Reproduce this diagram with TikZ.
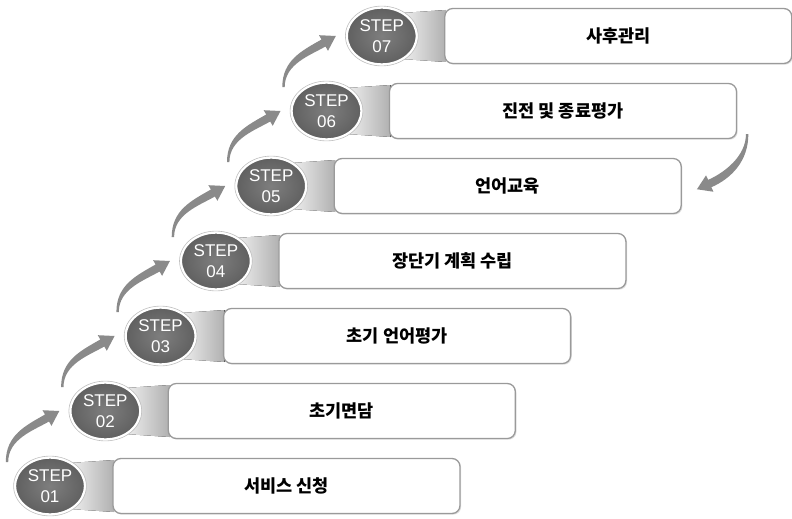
\documentclass[tikz,border=0pt]{standalone}
\usepackage{fontspec}
\setmainfont{Liberation Sans}
\newfontfamily\kr{Noto Sans CJK KR}
\usetikzlibrary{shapes.geometric,shadows,calc}
\definecolor{arrowgray}{HTML}{8A8A8A}
\definecolor{stepdark}{HTML}{606060}
\definecolor{steplight}{HTML}{7E7E7E}
\definecolor{boxline}{HTML}{9A9A9A}
\tikzset{
  stepcircle/.style={ellipse, minimum width=70pt, minimum height=57pt, inner sep=0pt,
    inner color=steplight, outer color=stepdark, draw=white, line width=2.4pt,
    text=white, align=center, font=\fontsize{17}{21}\selectfont},
  stepbox/.style={rectangle, rounded corners=8pt, minimum width=347pt, minimum height=55pt,
    draw=boxline, line width=1.3pt, fill=white,
    drop shadow={opacity=0.25, shadow xshift=1.2pt, shadow yshift=-1.2pt},
    font=\kr\bfseries\fontsize{17.5}{20}\selectfont},
  funnel/.style={left color=gray!12, right color=gray!62, draw=none},
  bentarrow/.style={fill=arrowgray, draw=none}
}
\begin{document}
\begin{tikzpicture}[x=1pt,y=-1pt]
\useasboundingbox (0,0) rectangle (792,519);
\foreach \k/\t in {1/서비스 신청, 2/초기면담, 3/초기 언어평가, 4/장단기 계획 수립, 5/언어교육, 6/진전 및 종료평가, 7/사후관리}{
  \pgfmathsetmacro\cx{50+55.3*(\k-1)}
  \pgfmathsetmacro\cy{486-75*(\k-1)}
  \pgfmathsetmacro\bx{\cx+236.5}
  \begin{scope}[shift={(\cx,\cy)}]
    \fill[funnel] (20,-23) -- (64,-26) -- (64,26) -- (20,23) -- cycle;
  \end{scope}
  \node[stepbox] (b\k) at (\bx,\cy) {\t};
  \node[stepcircle] (c\k) at (\cx,\cy) {STEP\\0\k};
  \draw[gray!50, line width=0.6pt] (c\k.center) ellipse [x radius=36.4pt, y radius=29.9pt];
}
% rising arrows between circles
\foreach \k in {1,...,6}{
  \begin{scope}[shift={(c\k.center)}]
    \fill[bentarrow] (-44.2,-24) .. controls (-44.2,-51) and (-24.1,-60.5) .. (-5,-71.5)
      -- (-7.5,-75.8) -- (9.3,-75) -- (1.5,-60.2) -- (-1,-64.5)
      .. controls (-16.7,-55.5) and (-41.8,-47) .. (-41.8,-24) -- cycle;
  \end{scope}
}
% return arrow from step 06 box to step 05 box
\begin{scope}[shift={(b6.south east)}]
  \fill[bentarrow] (11.2,-5) .. controls (11.2,22) and (-5.7,39.2) .. (-25.8,48.1)
    -- (-23.7,52.6) -- (-40.2,50.1) -- (-31.1,36.2) -- (-29,40.7)
    .. controls (-12.5,33.4) and (8.8,17) .. (8.8,-5) -- cycle;
\end{scope}
\end{tikzpicture}
\end{document}
